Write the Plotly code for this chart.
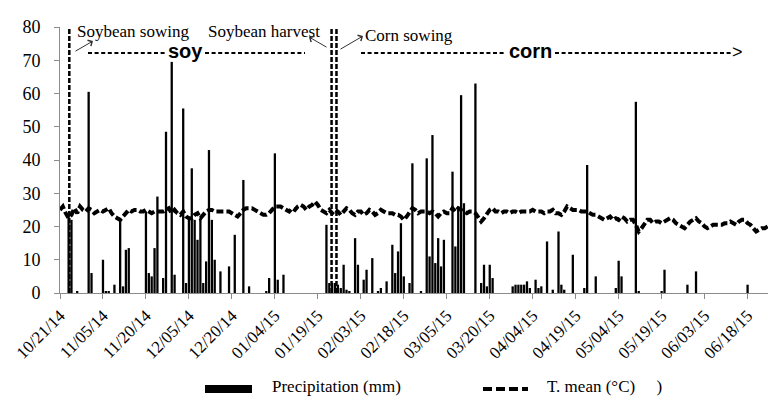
import plotly.graph_objects as go
import pandas as pd

# ---------------- data ----------------
start_date = "2014-10-21"

rain_dates = [
    "2014-10-24", "2014-10-25", "2014-10-27", "2014-10-31", "2014-11-01", "2014-11-05", "2014-11-06",
    "2014-11-07", "2014-11-09", "2014-11-11", "2014-11-12", "2014-11-13", "2014-11-14", "2014-11-20",
    "2014-11-21", "2014-11-22", "2014-11-23", "2014-11-24", "2014-11-26", "2014-11-27", "2014-11-29",
    "2014-11-30", "2014-12-03", "2014-12-04", "2014-12-05", "2014-12-06", "2014-12-07", "2014-12-08",
    "2014-12-09", "2014-12-10", "2014-12-11", "2014-12-12", "2014-12-13", "2014-12-14", "2014-12-16",
    "2014-12-19", "2014-12-21", "2014-12-24", "2014-12-26", "2015-01-01", "2015-01-02", "2015-01-04",
    "2015-01-05", "2015-01-07", "2015-01-22", "2015-01-23", "2015-01-24", "2015-01-25", "2015-01-26",
    "2015-01-27", "2015-01-28", "2015-01-29", "2015-01-30", "2015-02-01", "2015-02-02", "2015-02-04",
    "2015-02-05", "2015-02-07", "2015-02-09", "2015-02-10", "2015-02-12", "2015-02-14", "2015-02-15",
    "2015-02-16", "2015-02-17", "2015-02-18", "2015-02-20", "2015-02-21", "2015-02-24", "2015-02-26",
    "2015-02-27", "2015-02-28", "2015-03-01", "2015-03-02", "2015-03-03", "2015-03-04", "2015-03-07",
    "2015-03-08", "2015-03-09", "2015-03-10", "2015-03-11", "2015-03-15", "2015-03-17", "2015-03-18",
    "2015-03-19", "2015-03-20", "2015-03-21", "2015-03-28", "2015-03-29", "2015-03-30", "2015-03-31",
    "2015-04-01", "2015-04-02", "2015-04-03", "2015-04-05", "2015-04-06", "2015-04-07", "2015-04-09",
    "2015-04-11", "2015-04-13", "2015-04-14", "2015-04-15", "2015-04-18", "2015-04-22", "2015-04-23",
    "2015-04-26", "2015-05-03", "2015-05-04", "2015-05-05", "2015-05-10", "2015-05-11", "2015-05-19",
    "2015-05-20", "2015-05-28", "2015-05-31", "2015-06-18",
]
rain_mm = [
    23, 22, 0.5, 60.5, 6, 10, 0.5,
    0.5, 2.5, 22.5, 2, 13, 13.5, 24.5,
    6, 5, 13.5, 29, 4.5, 48.5, 69.5,
    5.5, 55.5, 3, 22, 37.5, 22, 16,
    22.5, 3, 9.5, 43, 22, 10, 6.5,
    8, 17.5, 34, 2, 0.5, 4.5, 42,
    4, 5.5, 20.5, 3, 3, 3, 2.5,
    1.5, 8.5, 1, 0.5, 16.5, 8.5, 4,
    7, 10.5, 0.5, 1.5, 3.5, 14.5, 6,
    12.5, 21, 5, 3, 39, 0.5, 40.5,
    11, 47.5, 9, 16.5, 8, 16, 36.5,
    14, 26, 59.5, 27, 63, 3, 8.5,
    2, 8.5, 4.5, 2, 2.5, 2.5, 2.5,
    2.5, 3.5, 1.5, 4, 1.5, 2, 15.5,
    1, 18.5, 2.5, 1, 11.5, 1.5, 38.5,
    5, 1.5, 9.7, 5, 57.5, 0.5, 0.5,
    7, 2.5, 6.5, 2.5,
]

temp_mean = [
    25, 26, 24, 22.5, 23.5, 25.5, 24, 26, 25, 24.5,
    25.5, 25, 24, 24.5, 25, 24.5, 25, 25.5, 24, 23,
    22.5, 22, 23, 24, 25, 24.5, 25, 25, 24.5, 24.5,
    25, 24.5, 24, 24.5, 24.5, 24.5, 24.5, 25, 25.5, 24,
    25, 24, 23.5, 24.5, 23, 22.5, 22.5, 23.5, 24, 22.5,
    23.5, 24.5, 25, 25, 24.5, 24.5, 24.5, 24.5, 24.5, 24.5,
    24, 23.5, 23, 24, 25, 25.5, 25.5, 25.5, 25, 24.5,
    24, 23.5, 23.5, 24, 25, 26, 26, 26, 25.5, 25,
    24.5, 25.5, 25, 26, 26.5, 26, 25, 26, 26.5, 27.5,
    26.5, 25, 24.5, 24, 25, 24, 25, 24.5, 23.5, 24.5,
    25.5, 25, 24, 23.5, 24.5, 24.5, 23.5, 24, 25, 24.5,
    23.5, 24, 25, 24.5, 24, 24, 24, 23.5, 23.5, 23,
    22, 23, 24.5, 25.5, 25, 24, 24.5, 24.5, 24.5, 24,
    24.5, 24, 23, 24, 24.5, 24, 24, 25.5, 24.5, 25.5,
    25, 24.5, 24, 24.5, 24.5, 24, 22.5, 21.5, 22.5, 24,
    25, 25.5, 24.5, 24.5, 24, 24.5, 24.5, 24, 24.5, 24.5,
    24, 24.5, 24.5, 24.5, 24.5, 25, 24.5, 24.5, 24.5, 24,
    24.5, 24.5, 25, 24, 24, 23.5, 24.5, 26, 25.5, 25,
    25, 25, 24.5, 24.5, 24.5, 24, 23.5, 23.5, 23, 22.5,
    22, 22.5, 23, 22, 22.5, 22, 23, 22.5, 21.5, 22,
    22, 20.5, 18.5, 19.5, 21, 22, 22, 21, 21.5, 21.5,
    21, 21.5, 22, 22.5, 22, 21, 20.5, 20, 19.5, 20.5,
    21.5, 22, 22.5, 21.5, 21, 20, 19.5, 20, 20.5, 20.5,
    20.5, 20.5, 21, 21, 21.5, 21, 20.5, 21.5, 22, 22,
    21, 20.5, 19.5, 18.5, 19, 19.5, 19.5, 20,
]

tick_labels = ["10/21/14", "11/05/14", "11/20/14", "12/05/14", "12/20/14", "01/04/15",
               "01/19/15", "02/03/15", "02/18/15", "03/05/15", "03/20/15", "04/04/15",
               "04/19/15", "05/04/15", "05/19/15", "06/03/15", "06/18/15"]

event_names = ["Soybean sowing", "Soybean harvest", "Corn sowing"]
event_dates = ["2014-10-24 06:00", "2015-01-23 19:00", "2015-01-25 12:00"]
period_names = ["soy", "corn"]

# ---------------- figure ----------------
W, H = 769, 396
L, R, T, B = 60, 1, 27, 103
pw, ph = W - L - R, H - T - B


def px(x):
    return (x - L) / pw


def py(y):
    return (H - B - y) / ph


temp_dates = pd.date_range(start_date, periods=len(temp_mean), freq="D")
tick_vals = pd.date_range(start_date, periods=len(tick_labels), freq="15D")
DAY = 86400000

fig = go.Figure()
fig.add_trace(go.Bar(x=rain_dates, y=rain_mm, width=0.8 * DAY,
                     marker=dict(color="black", line=dict(width=0)),
                     name="Precipitation (mm)", showlegend=False))
fig.add_trace(go.Scatter(x=temp_dates, y=temp_mean, mode="lines",
                         line=dict(color="black", width=4, dash="7px,3px"),
                         name="T. mean (°C)", showlegend=False))

# vertical event lines
for d in event_dates:
    fig.add_shape(type="line", xref="x", yref="y", x0=d, x1=d, y0=0, y1=81,
                  line=dict(color="black", width=2.5, dash="5px,2px"), layer="above")

serif = "Liberation Serif"
sans = "Liberation Sans"

# event labels
for name, lx, ly in zip(event_names, [75, 206, 363], [31, 31, 35]):
    fig.add_annotation(text=name, xref="paper", yref="paper", x=px(lx), y=py(ly),
                       xanchor="left", yanchor="middle", showarrow=False,
                       font=dict(family=serif, size=17, color="black"))

# arrows (head near text, tail at event line)
for hx, hy, tx, ty in [(93, 41, 74, 52), (309, 37, 328, 48), (363, 36, 339, 50)]:
    fig.add_annotation(text="", xref="paper", yref="paper", x=px(hx), y=py(hy),
                       ax=tx - hx, ay=ty - hy, showarrow=True, arrowhead=4,
                       arrowsize=1.3, arrowwidth=1, arrowcolor="#333333")

# crop period dashed guides and labels
dash_y = 53
for x0, x1 in [(88, 167), (205, 305), (361, 506), (555, 733)]:
    fig.add_shape(type="line", xref="paper", yref="paper", x0=px(x0), x1=px(x1),
                  y0=py(dash_y), y1=py(dash_y),
                  line=dict(color="black", width=2, dash="4px,2.6px"))
for name, cx in zip(period_names, [185.5, 530]):
    fig.add_annotation(text="<b>%s</b>" % name, xref="paper", yref="paper",
                       x=px(cx), y=py(51), xanchor="center", yanchor="middle", showarrow=False,
                       font=dict(family=sans, size=20, color="black"))
fig.add_annotation(text="&gt;", xref="paper", yref="paper", x=px(730), y=py(52),
                   xanchor="left", yanchor="middle", showarrow=False,
                   font=dict(family=sans, size=18, color="black"))

# custom legend
fig.add_shape(type="rect", xref="paper", yref="paper", x0=px(205), x1=px(252),
              y0=py(393), y1=py(385), fillcolor="black", line=dict(width=0))
fig.add_annotation(text="Precipitation (mm)", xref="paper", yref="paper", x=px(270), y=py(386),
                   xanchor="left", yanchor="middle", showarrow=False,
                   font=dict(family=serif, size=17, color="black"))
fig.add_shape(type="line", xref="paper", yref="paper", x0=px(483), x1=px(528),
              y0=py(389), y1=py(389), line=dict(color="black", width=4, dash="9px,4px"))
fig.add_annotation(text="T. mean (°C)     )", xref="paper", yref="paper", x=px(545), y=py(386),
                   xanchor="left", yanchor="middle", showarrow=False,
                   font=dict(family=serif, size=17, color="black"))

fig.update_layout(
    width=W, height=H, margin=dict(l=L, r=R, t=T, b=B),
    paper_bgcolor="white", plot_bgcolor="white", showlegend=False,
    font=dict(family=serif, size=17, color="black"),
)
fig.update_xaxes(type="date", range=["2014-10-21", "2015-06-25 03:00"],
                 tickvals=tick_vals, ticktext=tick_labels, tickangle=-45,
                 showline=True, linecolor="#8c8c8c", linewidth=1,
                 ticks="outside", ticklen=5, tickcolor="#8c8c8c",
                 showgrid=False, zeroline=False,
                 tickfont=dict(family=serif, size=17, color="black"))
fig.update_yaxes(range=[0, 80], dtick=10, tick0=0,
                 showline=True, linecolor="#8c8c8c", linewidth=1,
                 ticks="outside", ticklen=5, tickcolor="#8c8c8c",
                 showgrid=False, zeroline=False, ticklabelstandoff=10,
                 tickfont=dict(family=serif, size=18, color="black"))

fig.write_html("out.html")
